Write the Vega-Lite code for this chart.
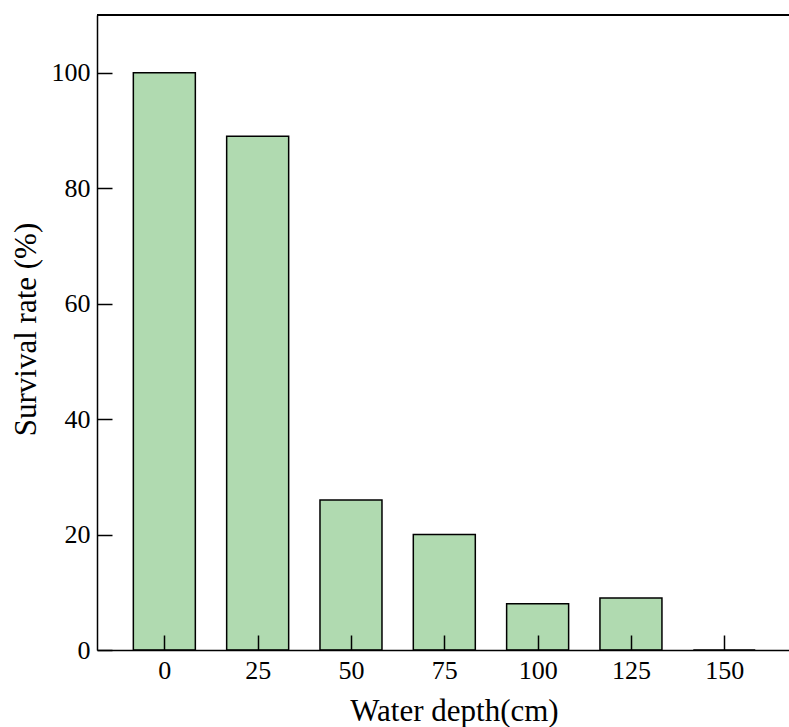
{
  "$schema": "https://vega.github.io/schema/vega-lite/v6.json",
  "width": 692,
  "height": 635,
  "autosize": {"type": "none"},
  "padding": {"left": 97, "top": 15, "right": 0, "bottom": 77},
  "background": "white",
  "config": {
    "view": {"stroke": null},
    "font": "Liberation Serif",
    "axis": {
      "grid": false,
      "domainColor": "black",
      "domainWidth": 1.5,
      "tickColor": "black",
      "tickWidth": 1.5,
      "tickSize": -15,
      "labelFont": "Liberation Serif",
      "labelFontSize": 26,
      "labelColor": "black",
      "titleFont": "Liberation Serif",
      "titleFontSize": 31,
      "titleFontWeight": "normal",
      "titleColor": "black"
    }
  },
  "data": {
    "values": [
      {"depth": 0, "rate": 100},
      {"depth": 25, "rate": 89},
      {"depth": 50, "rate": 26},
      {"depth": 75, "rate": 20},
      {"depth": 100, "rate": 8},
      {"depth": 125, "rate": 9},
      {"depth": 150, "rate": 0}
    ]
  },
  "layer": [
    {
      "mark": {"type": "bar", "size": 62, "fill": "#b0dab0", "stroke": "black", "strokeWidth": 1.5},
      "encoding": {
        "x": {
          "field": "depth",
          "type": "quantitative",
          "scale": {"domain": [-16.7, 166.0], "nice": false, "zero": false},
          "axis": {"zindex": 1, "values": [0, 25, 50, 75, 100, 125, 150], "title": "Water depth(cm)", "labelPadding": 22, "titlePadding": 13, "titleX": 357}
        },
        "y": {
          "field": "rate",
          "type": "quantitative",
          "scale": {"domain": [0, 110], "nice": false},
          "axis": {"zindex": 1, "values": [0, 20, 40, 60, 80, 100], "title": "Survival rate (%)", "labelPadding": 22, "titlePadding": 9, "titleY": 314}
        }
      }
    },
    {
      "mark": {"type": "rule", "color": "black", "strokeWidth": 2},
      "encoding": {"y": {"datum": 110}}
    }
  ]
}
